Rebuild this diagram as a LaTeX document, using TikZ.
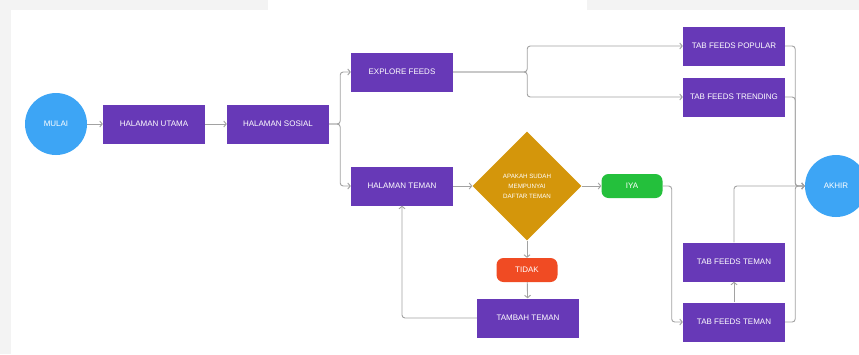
\documentclass[tikz,border=0pt]{standalone}
\usepackage{fontspec}
\setmainfont{Liberation Sans}
\usetikzlibrary{arrows.meta}
\usetikzlibrary{shapes.geometric}

\definecolor{ungu}{HTML}{6739B7}
\definecolor{biru}{HTML}{3DA5F5}
\definecolor{emas}{HTML}{D4960B}
\definecolor{hijau}{HTML}{24C03C}
\definecolor{merah}{HTML}{F04B23}
\definecolor{garis}{HTML}{A2A2A2}
\definecolor{latar}{HTML}{F3F3F3}

\tikzset{
    kotak/.style={fill=ungu, text=white, minimum width=102pt, minimum height=39pt,
        inner sep=0pt, font=\fontsize{8}{9}\selectfont},
    bulat/.style={circle, fill=biru, text=white, minimum size=62pt, inner sep=0pt,
        font=\fontsize{8}{9}\selectfont},
    belah/.style={diamond, fill=emas, text=white, minimum width=109pt, minimum height=109pt,
        inner sep=0pt, align=center, font=\fontsize{6.2}{10}\selectfont},
    pil/.style={rounded corners=7pt, text=white, minimum width=61pt, minimum height=24pt,
        inner sep=0pt, font=\fontsize{8}{9}\selectfont},
    panah/.style={draw=garis, line width=0.9pt, rounded corners=3pt,
        -{Straight Barb[length=2.5pt,width=6pt]}},
}

\begin{document}
\begin{tikzpicture}[x=1pt, y=-1pt]
                \useasboundingbox (0,0) rectangle (859,354);
                \clip (0,0) rectangle (859,354);

                % latar
                \fill[latar] (0,0) rectangle (859,354);
                \fill[white] (11,10) rectangle (859,354);
                \fill[white] (268,0) rectangle (587,10);

                \node[bulat] (mulai) at (56,124) {MULAI};
                \node[kotak] (utama) at (154,124) {HALAMAN UTAMA};
                \node[kotak] (sosial) at (278,124) {HALAMAN SOSIAL};

                \node[kotak] (explore) at (402,72) {EXPLORE FEEDS};
                \node[kotak] (teman) at (402,186) {HALAMAN TEMAN};

                \node[belah] (cek) at (527,186) {APAKAH SUDAH\\MEMPUNYAI\\DAFTAR TEMAN};
                \node[pil, fill=hijau] (iya) at (632,186) {IYA};
                \node[pil, fill=merah] (tidak) at (527,270) {TIDAK};
                \node[kotak] (tambah) at (528,318) {TAMBAH TEMAN};

                \node[kotak] (popular) at (734,46) {TAB FEEDS POPULAR};
                \node[kotak] (trending) at (734,97) {TAB FEEDS TRENDING};
                \node[kotak] (tabteman1) at (734,262) {TAB FEEDS TEMAN};
                \node[kotak] (tabteman2) at (734,322) {TAB FEEDS TEMAN};

                \node[bulat] (akhir) at (836,186) {AKHIR};

                % alur
                \draw[panah] (mulai) -- (utama);
                \draw[panah] (utama) -- (sosial);
                \draw[panah] (sosial.east) -- ++(11,0) |- (explore);
                \draw[panah] (sosial.east) -- ++(11,0) |- (teman);

                \draw[panah] (explore.east) -- ++(74,0) |- (popular);
                \draw[panah] (explore.east) -- ++(74,0) |- (trending);

                \draw[panah] (teman) -- (cek);
                \draw[panah] (cek) -- (iya);
                \draw[panah] (cek) -- (tidak);
                \draw[panah] (tidak) -- (tambah);
                \draw[panah] (tambah) -| (teman);
                \draw[panah] (iya.east) -- ++(9,0) |- (tabteman2);

                \draw[panah] (tabteman2) -- (tabteman1);
                \draw[panah] (tabteman1) |- (akhir);
                \draw[panah] (popular.east) -- ++(10,0) |- (akhir);
                \draw[panah] (trending.east) -- ++(10,0) |- (akhir);
                \draw[panah] (tabteman2.east) -- ++(10,0) |- (akhir);
            \end{tikzpicture}
\end{document}
